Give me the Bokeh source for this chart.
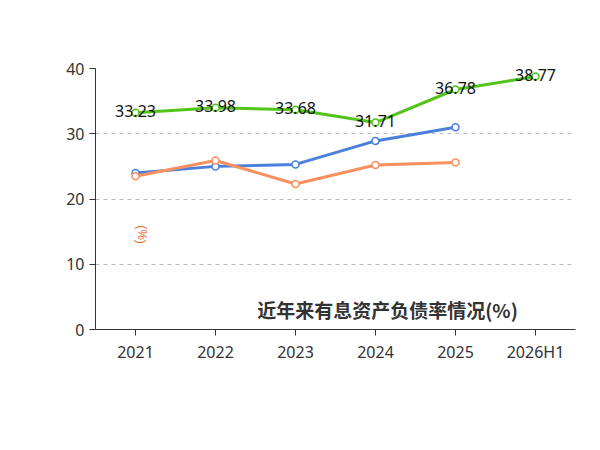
from bokeh.plotting import figure
from bokeh.models import Range1d, Label, Legend, LegendItem, ColumnDataSource, SingleIntervalTicker
from bokeh.embed import file_html
from bokeh.resources import INLINE
from bokeh.core.properties import value

years = ["2021", "2022", "2023", "2024", "2025", "2026H1"]
ratio = [33.23, 33.98, 33.68, 31.71, 36.78, 38.77]
ind_avg = [24.0, 25.0, 25.3, 28.9, 31.0]
ind_med = [23.5, 25.9, 22.3, 25.2, 25.6]

p = figure(x_range=years, width=584, height=434, output_backend="svg", toolbar_location=None,
           min_border_left=95, min_border_right=9, min_border_top=68, min_border_bottom=105)
p.y_range = Range1d(0, 40)
p.outline_line_color = None
p.xgrid.grid_line_color = None
p.ygrid.grid_line_dash = "4 4"
p.ygrid.grid_line_color = "#bbbbbb"
p.yaxis.ticker = SingleIntervalTicker(interval=10)
for ax in (p.xaxis, p.yaxis):
    ax.axis_line_color = "#333333"
    ax.major_tick_line_color = "#333333"
    ax.minor_tick_line_color = None
    ax.major_label_text_font_size = "16px"
    ax.major_label_text_color = "#333333"
    ax.major_label_text_font = "Noto Sans"
p.yaxis.major_tick_in = 0
p.yaxis.major_tick_out = 6
p.xaxis.major_tick_in = 0

green, blue, orange = "#52c41a", "#4a7fdc", "#f89060"
src = ColumnDataSource(dict(x=years, y=ratio, t=[f"{v:.2f}" for v in ratio]))
gl = p.line("x", "y", source=src, color=green, line_width=3)
gc = p.scatter("x", "y", source=src, size=7, fill_color="white", line_color=green, line_width=1.5)
bl = p.line(years[:5], ind_avg, color=blue, line_width=3)
bc = p.scatter(years[:5], ind_avg, size=7, fill_color="white", line_color=blue, line_width=1.5)
ol = p.line(years[:5], ind_med, color=orange, line_width=3)
oc = p.scatter(years[:5], ind_med, size=7, fill_color="white", line_color=orange, line_width=1.5)
p.text("x", "y", text="t", source=src, text_align="center", text_baseline="middle", y_offset=-2,
       text_font_size="16px", text_font=value("Noto Sans"), text_color="#111111")

leg = Legend(items=[LegendItem(label="有息资产负债率", renderers=[gl, gc]),
                    LegendItem(label="行业均值", renderers=[bl, bc]),
                    LegendItem(label="行业中位数", renderers=[ol, oc])],
             orientation="horizontal", location=(-30, 320), border_line_color=None,
             background_fill_alpha=0, label_text_font_size="16px", label_text_font="Noto Sans CJK SC",
             label_text_color="#333333", glyph_width=40, spacing=20)
p.add_layout(leg)

p.add_layout(Label(x=292, y=20, x_units="screen", y_units="screen", text="近年来有息资产负债率情况(%)",
                   text_align="center", text_baseline="middle", text_font_size="19px", text_font_style="bold",
                   text_font="Noto Sans CJK SC", text_color="#333333"))
p.add_layout(Label(x=46, y=95, x_units="screen", y_units="screen", text="(%)", angle=-1.5708,
                   text_align="center", text_baseline="middle", text_font_size="12px", text_color="#e0621e"))
p.add_layout(Label(x=292, y=432, x_units="screen", y_units="screen", text="制图数据来自恒生聚源数据库",
                   text_align="center", text_baseline="middle", text_font_size="13px",
                   text_font="Noto Sans CJK SC", text_color="#c8963c"))

open("out.html", "w").write(file_html(p, INLINE))
